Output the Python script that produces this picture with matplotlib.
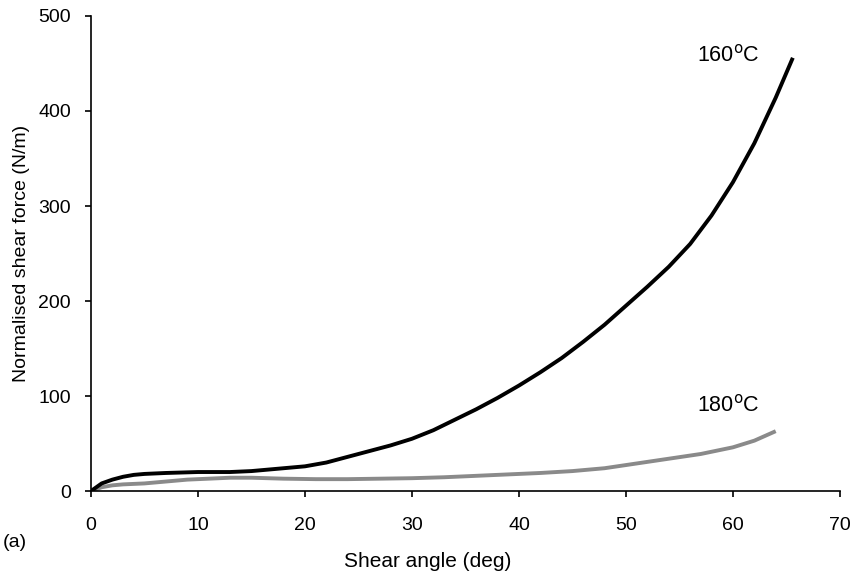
import matplotlib
matplotlib.use("Agg")
import matplotlib.pyplot as plt

plt.rcParams["font.family"] = ["Liberation Sans", "DejaVu Sans"]

# values
angle_160 = [0, 0.5, 1, 2, 3, 4, 5, 7, 10, 13, 15, 17, 20, 22, 24, 26, 28, 30,
             32, 34, 36, 38, 40, 42, 44, 46, 48, 50, 52, 54, 56, 58, 60, 62, 64, 65.6]
force_160 = [0, 4, 8, 12, 15, 17, 18, 19, 20, 20, 21, 23, 26, 30, 36, 42, 48, 55,
             64, 75, 86, 98, 111, 125, 140, 157, 175, 195, 215, 236, 260, 290, 325, 366, 414, 456]

angle_180 = [0, 0.5, 1, 2, 3, 5, 7, 9, 11, 13, 15, 18, 21, 24, 27, 30, 33, 36,
             39, 42, 45, 48, 51, 54, 57, 60, 62, 64]
force_180 = [0, 2, 4, 6, 7, 8, 10, 12, 13, 14, 14, 13, 12.5, 12.5, 13, 13.5, 14.5, 16,
             17.5, 19, 21, 24, 29, 34, 39, 46, 53, 63]

fig = plt.figure(figsize=(8.52, 5.77), dpi=100)
ax = fig.add_axes([0.1068, 0.149, 0.879, 0.8233])

ax.plot(angle_180, force_180, color="#8a8a8a", linewidth=2.8, solid_capstyle="butt")
ax.plot(angle_160, force_160, color="black", linewidth=2.8, solid_capstyle="butt")

ax.text(56.6, 459, "160$^{\\mathrm{o}}$C", fontsize=15.5, ha="left", va="center")
ax.text(56.6, 90, "180$^{\\mathrm{o}}$C", fontsize=15.5, ha="left", va="center")

ax.set_xlim(0, 70)
ax.set_ylim(0, 500)
ax.set_xticks(range(0, 71, 10))
ax.set_yticks(range(0, 501, 100))
for s in ["top", "right"]:
    ax.spines[s].set_visible(False)
for s in ["left", "bottom"]:
    ax.spines[s].set_linewidth(1.2)
ax.tick_params(direction="out", length=4.5, width=1.2, labelsize=14)
ax.tick_params(axis="x", pad=14)
ax.tick_params(axis="y", pad=10)

ax.set_xlabel("Shear angle (deg)", fontsize=15)
ax.xaxis.set_label_coords(0.45, -0.128)
ax.set_ylabel("Normalised shear force (N/m)", fontsize=14, labelpad=6)
fig.text(0.003, 0.059, "(a)", fontsize=14, ha="left", va="center")

fig.savefig("out.png", dpi=100)
